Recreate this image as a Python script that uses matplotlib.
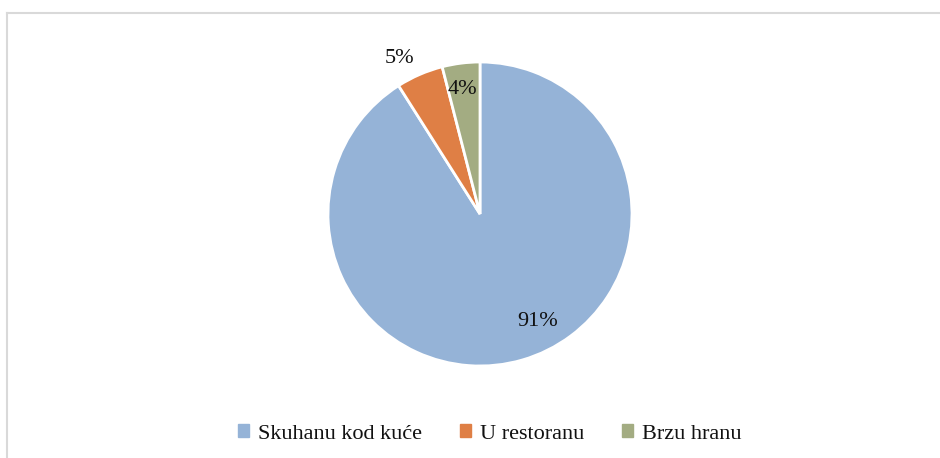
import numpy as np
import matplotlib.pyplot as plt
from matplotlib.lines import Line2D

kategorije = ['Skuhanu kod kuće', 'U restoranu', 'Brzu hranu']
postoci = [91, 5, 4]
boje = ['#95B3D7', '#DF7F45', '#A3AC82']

# pomaci naljepnica (udaljenost od sredista, pomak kuta u stupnjevima)
udaljenosti = [0.80, 1.15, 0.83]
pomaci_kuta = [12, 4, 1]

plt.rcParams['font.family'] = ['Liberation Serif', 'DejaVu Serif']

W, H = 940, 458
fig = plt.figure(figsize=(W / 100, H / 100), dpi=100)

cx, cy, r = 480, 214, 152
ax = fig.add_axes([(cx - r) / W, (H - cy - r) / H, 2 * r / W, 2 * r / H])
wedges, _ = ax.pie(postoci, colors=boje, startangle=90, counterclock=False,
                   wedgeprops=dict(edgecolor='white', linewidth=2))
ax.set_xlim(-1, 1)
ax.set_ylim(-1, 1)
ax.set_aspect('equal')

for w, p, d, da in zip(wedges, postoci, udaljenosti, pomaci_kuta):
    kut = np.deg2rad((w.theta1 + w.theta2) / 2 + da)
    ax.text(d * np.cos(kut), d * np.sin(kut), '{}%'.format(p),
            ha='center', va='center', fontsize=16, color='#111111', clip_on=False)

handles = [plt.Rectangle((0, 0), 1, 1, color=b) for b in boje]
fig.legend(handles, kategorije, loc='center', bbox_to_anchor=(490 / W, 1 - 434 / H),
           ncol=3, frameon=False, fontsize=16, handlelength=0.5, handleheight=0.5,
           handletextpad=0.4, columnspacing=1.7, labelcolor='#111111')

# okvir grafikona
fig.add_artist(Line2D([7 / W, 1], [1 - 13 / H, 1 - 13 / H], color='#D9D9D9', lw=1.5,
                      transform=fig.transFigure))
fig.add_artist(Line2D([7 / W, 7 / W], [0, 1 - 13 / H], color='#D9D9D9', lw=1.5,
                      transform=fig.transFigure))

fig.savefig('out.png', dpi=100)
